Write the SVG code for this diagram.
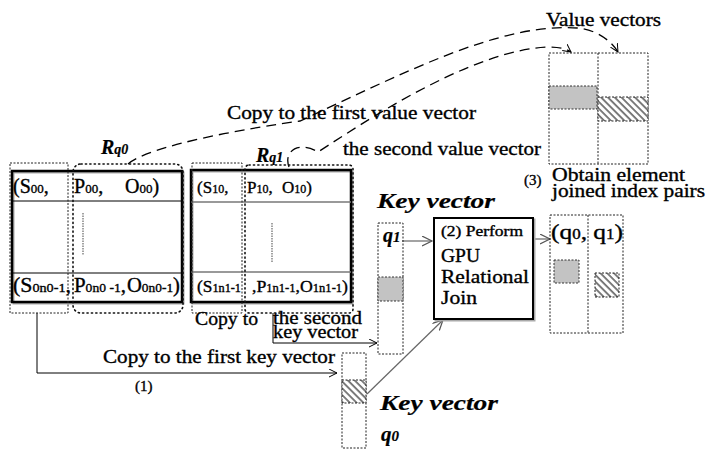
<svg xmlns="http://www.w3.org/2000/svg" width="719" height="459" viewBox="0 0 719 459">
<style>
.t{font-family:"Liberation Serif","Times New Roman",serif;fill:#000;stroke:#000;stroke-width:0.35}
.it{font-style:italic;font-weight:bold;stroke-width:0.2}
.dot{fill:none;stroke:#222;stroke-width:1;stroke-dasharray:2,1.5}
.rdot{fill:none;stroke:#111;stroke-width:1.6;stroke-dasharray:1.2,3.2;stroke-linecap:round}
.solid{fill:none;stroke:#000;stroke-width:2.5}
.shadow{fill:none;stroke:#aaa;stroke-width:2}
.dash{fill:none;stroke:#000;stroke-width:1.3;stroke-dasharray:10,6}
.ln{fill:none;stroke:#000;stroke-width:1}
.gln{fill:none;stroke:#666;stroke-width:1.2}
.grey{fill:#c3c3c3;stroke:#333;stroke-width:1;stroke-dasharray:2,1.5}
.hatch{fill:url(#hatch);stroke:#222;stroke-width:1;stroke-dasharray:2,1.5}
</style>
<defs>
<pattern id="hatch" patternUnits="userSpaceOnUse" width="4.8" height="4.8" patternTransform="rotate(-45)">
<rect width="4.8" height="4.8" fill="#fff"/>
<line x1="1" y1="0" x2="1" y2="4.8" stroke="#000" stroke-width="1"/>
</pattern>
<marker id="ab" markerWidth="10" markerHeight="10" refX="8" refY="4" orient="auto" markerUnits="userSpaceOnUse">
<path d="M0,0 L8,4 L0,8" fill="none" stroke="#000" stroke-width="1"/>
</marker>
<marker id="ag" markerWidth="12" markerHeight="12" refX="10" refY="5" orient="auto" markerUnits="userSpaceOnUse">
<path d="M0,0 L10,5 L0,10" fill="none" stroke="#555" stroke-width="1.2"/>
</marker>
</defs>
<rect width="719" height="459" fill="#fff"/>

<g id="connectors">
<path class="dash" d="M128,164 C150,145 250,128 300,121 C400,75 500,22 578,28 C598,30 612,42 618,52" marker-end="url(#ab)"/>
<path class="dash" d="M289,167 C283,150 300,141 318,152 C360,125 470,50 548,47 C560,47 567,49 571,52" marker-end="url(#ab)"/>
<polyline class="ln" points="37,313 37,373 337,373" marker-end="url(#ab)"/>
<polyline class="ln" points="273,313 273,343 377,343" marker-end="url(#ab)"/>
<line class="gln" x1="402" y1="241" x2="432" y2="241" marker-end="url(#ag)"/>
<line class="gln" x1="533" y1="239" x2="550" y2="239" marker-end="url(#ag)"/>
<line class="gln" x1="367" y1="394" x2="443" y2="320" marker-end="url(#ag)"/>
</g>

<g id="table0">
<rect class="shadow" x="13.5" y="172.5" width="170" height="131"/>
<rect class="solid" x="12" y="171" width="170" height="131"/>
<line class="ln" x1="12" y1="201" x2="182" y2="201"/>
<line class="ln" x1="12" y1="273" x2="182" y2="273"/>
<line x1="83" y1="213" x2="83" y2="255" stroke="#666" stroke-width="1.2" stroke-dasharray="1.5,1"/>
<rect class="dot" x="10" y="163" width="58" height="150"/>
<rect class="rdot" x="73" y="164" width="110" height="149" rx="8"/>
<text class="t" x="13" y="193" font-size="20">(S<tspan font-size="13">00</tspan>,</text>
<text class="t" x="74" y="193" font-size="20">P<tspan font-size="13">00</tspan>,</text>
<text class="t" x="125" y="193" font-size="20">O<tspan font-size="13">00</tspan>)</text>
<text class="t" x="13" y="292" font-size="20" textLength="58" lengthAdjust="spacingAndGlyphs">(S<tspan font-size="13">0n0-1</tspan>,</text>
<text class="t" x="74" y="292" font-size="20" textLength="52" lengthAdjust="spacingAndGlyphs">P<tspan font-size="13">0n0 -1</tspan>,</text>
<text class="t" x="127" y="292" font-size="20" textLength="53" lengthAdjust="spacingAndGlyphs">O<tspan font-size="13">0n0-1</tspan>)</text>
<text class="t it" x="101" y="154" font-size="20">R<tspan font-size="14">q0</tspan></text>
</g>

<g id="table1">
<rect class="shadow" x="192.5" y="171.5" width="160" height="132"/>
<rect class="solid" x="191" y="170" width="160" height="132"/>
<line x1="191" y1="202" x2="351" y2="202" stroke="#777" stroke-width="1.5"/>
<line x1="191" y1="272" x2="351" y2="272" stroke="#777" stroke-width="1.5"/>
<line x1="272" y1="223" x2="272" y2="263" stroke="#666" stroke-width="1.2" stroke-dasharray="1.5,1"/>
<rect class="dot" x="192" y="163" width="50" height="150"/>
<rect class="rdot" x="245" y="165" width="108" height="148" rx="4"/>
<text class="t" x="197" y="193" font-size="17">(S<tspan font-size="12">10</tspan>,</text>
<text class="t" x="247" y="193" font-size="17">P<tspan font-size="12">10</tspan>,</text>
<text class="t" x="282" y="193" font-size="17">O<tspan font-size="12">10</tspan>)</text>
<text class="t" x="197" y="292" font-size="17" textLength="44" lengthAdjust="spacingAndGlyphs">(S<tspan font-size="12">1n1-1</tspan></text>
<text class="t" x="252" y="292" font-size="17" textLength="96" lengthAdjust="spacingAndGlyphs">,P<tspan font-size="12">1n1-1</tspan>,O<tspan font-size="12">1n1-1</tspan>)</text>
<text class="t it" x="256" y="162" font-size="20">R<tspan font-size="14">q1</tspan></text>
</g>

<g id="labels">
<text class="t" x="227" y="119" font-size="19" textLength="249" lengthAdjust="spacingAndGlyphs">Copy to the first value vector</text>
<text class="t" x="343" y="155" font-size="19" textLength="198" lengthAdjust="spacingAndGlyphs">the second value vector</text>
<text class="t" x="546" y="26" font-size="19" textLength="115" lengthAdjust="spacingAndGlyphs">Value vectors</text>
<text class="t" x="195" y="325" font-size="19" textLength="63" lengthAdjust="spacingAndGlyphs">Copy to</text>
<text class="t" x="273" y="324" font-size="18" textLength="89" lengthAdjust="spacingAndGlyphs">the second</text>
<text class="t" x="273" y="338" font-size="18" textLength="85" lengthAdjust="spacingAndGlyphs">key vector</text>
<text class="t" x="103" y="363" font-size="19" textLength="232" lengthAdjust="spacingAndGlyphs">Copy to the first key vector</text>
<text class="t" x="135" y="391" font-size="15">(1)</text>
<text class="t" x="524" y="185" font-size="15">(3)</text>
<text class="t" x="552" y="181" font-size="18" textLength="133" lengthAdjust="spacingAndGlyphs">Obtain element</text>
<text class="t" x="552" y="197" font-size="18" textLength="153" lengthAdjust="spacingAndGlyphs">joined index pairs</text>
</g>

<g id="keyvector-q1">
<text class="t it" x="377" y="208" font-size="21" textLength="118" lengthAdjust="spacingAndGlyphs">Key vector</text>
<rect class="dot" x="378" y="223" width="25" height="131"/>
<rect class="grey" x="378" y="277" width="25" height="24"/>
<text class="t it" x="383" y="242" font-size="20">q<tspan font-size="15">1</tspan></text>
</g>

<g id="keyvector-q0">
<rect class="dot" x="342" y="353" width="24" height="95"/>
<rect class="hatch" x="342" y="380" width="24" height="23"/>
<text class="t it" x="380" y="410" font-size="21" textLength="118" lengthAdjust="spacingAndGlyphs">Key vector</text>
<text class="t it" x="381" y="441" font-size="21">q<tspan font-size="15">0</tspan></text>
</g>

<g id="gpu-join">
<rect class="shadow" x="435.5" y="219.5" width="99" height="101"/>
<rect x="434" y="218" width="99" height="101" fill="#fff" stroke="#000" stroke-width="2"/>
<text class="t" x="441" y="236" font-size="14" textLength="82" lengthAdjust="spacingAndGlyphs">(2) Perform</text>
<text class="t" x="441" y="262" font-size="19" textLength="39" lengthAdjust="spacingAndGlyphs">GPU</text>
<text class="t" x="441" y="283" font-size="19" textLength="88" lengthAdjust="spacingAndGlyphs">Relational</text>
<text class="t" x="441" y="304" font-size="19" textLength="36" lengthAdjust="spacingAndGlyphs">Join</text>
</g>

<g id="index-pairs">
<rect class="dot" x="550" y="215" width="73" height="118"/>
<line class="dot" x1="588" y1="215" x2="588" y2="333"/>
<rect class="grey" x="554" y="260" width="25" height="23"/>
<rect class="hatch" x="595" y="273" width="24" height="24"/>
<text class="t" x="551" y="239" font-size="21" textLength="72" lengthAdjust="spacingAndGlyphs">(q<tspan font-size="14">0</tspan>, q<tspan font-size="14">1</tspan>)</text>
</g>

<g id="value-vectors">
<rect class="dot" x="549" y="53" width="99" height="111"/>
<line class="dot" x1="598" y1="53" x2="598" y2="164"/>
<rect class="grey" x="549" y="86" width="48" height="23"/>
<rect class="hatch" x="598" y="97" width="50" height="24"/>
</g>
</svg>
